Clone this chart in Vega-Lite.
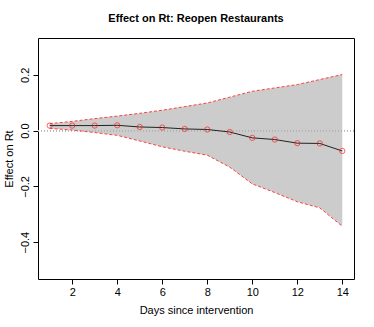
{
  "$schema": "https://vega.github.io/schema/vega-lite/v6.json",
  "width": 316,
  "height": 241,
  "autosize": {"type": "none"},
  "padding": {"left": 38, "top": 38, "right": 20, "bottom": 48},
  "background": "white",
  "title": {"text": "Effect on Rt: Reopen Restaurants", "font": "Liberation Sans", "fontSize": 11, "fontWeight": "bold", "color": "black", "anchor": "middle", "offset": 14},
  "config": {
    "view": {"stroke": "black", "strokeWidth": 1},
    "axis": {"domain": false, "grid": false, "tickColor": "black", "tickSize": 5, "labelColor": "black", "labelFont": "Liberation Sans", "labelFontSize": 11, "titleFont": "Liberation Sans", "titleFontSize": 11, "titleFontWeight": "normal", "titleColor": "black"}
  },
  "data": {"values": [
    {"day": 1, "mean": 0.018, "lower": 0.008, "upper": 0.025},
    {"day": 2, "mean": 0.018, "lower": 0.002, "upper": 0.033},
    {"day": 3, "mean": 0.018, "lower": -0.007, "upper": 0.043},
    {"day": 4, "mean": 0.019, "lower": -0.017, "upper": 0.052},
    {"day": 5, "mean": 0.013, "lower": -0.037, "upper": 0.062},
    {"day": 6, "mean": 0.011, "lower": -0.058, "upper": 0.073},
    {"day": 7, "mean": 0.006, "lower": -0.074, "upper": 0.086},
    {"day": 8, "mean": 0.004, "lower": -0.088, "upper": 0.099},
    {"day": 9, "mean": -0.005, "lower": -0.131, "upper": 0.120},
    {"day": 10, "mean": -0.026, "lower": -0.191, "upper": 0.141},
    {"day": 11, "mean": -0.032, "lower": -0.222, "upper": 0.153},
    {"day": 12, "mean": -0.045, "lower": -0.255, "upper": 0.165},
    {"day": 13, "mean": -0.046, "lower": -0.277, "upper": 0.183},
    {"day": 14, "mean": -0.073, "lower": -0.343, "upper": 0.201}
  ]},
  "encoding": {
    "x": {"field": "day", "type": "quantitative",
      "scale": {"domain": [0.48, 14.52], "nice": false, "zero": false},
      "axis": {"values": [2, 4, 6, 8, 10, 12, 14], "title": "Days since intervention", "labelPadding": 2, "titlePadding": 7}}
  },
  "layer": [
    {"mark": {"type": "area", "color": "#cccccc"},
     "encoding": {
       "y": {"field": "lower", "type": "quantitative",
         "scale": {"domain": [-0.532, 0.332], "nice": false, "zero": false},
         "axis": {"values": [-0.4, -0.2, 0, 0.2], "format": ".1f", "title": "Effect on Rt", "labelAngle": 270, "labelAlign": "center", "labelBaseline": "bottom", "labelPadding": 3, "titlePadding": 5}},
       "y2": {"field": "upper"}
     }},
    {"mark": {"type": "rule", "color": "#b0b0b0", "strokeDash": [1, 2], "strokeWidth": 1},
     "encoding": {"y": {"datum": 0, "type": "quantitative"}, "x": {"value": 0}, "x2": {"value": 316}}},
    {"mark": {"type": "line", "color": "#ff4040", "strokeDash": [3, 2], "strokeWidth": 1},
     "encoding": {"y": {"field": "upper", "type": "quantitative"}}},
    {"mark": {"type": "line", "color": "#ff4040", "strokeDash": [3, 2], "strokeWidth": 1},
     "encoding": {"y": {"field": "lower", "type": "quantitative"}}},
    {"mark": {"type": "line", "color": "#222222", "strokeWidth": 1},
     "encoding": {"y": {"field": "mean", "type": "quantitative"}}},
    {"mark": {"type": "point", "shape": "circle", "filled": false, "color": "#ff2020", "size": 28, "strokeWidth": 1},
     "encoding": {"y": {"field": "mean", "type": "quantitative"}}}
  ]
}
